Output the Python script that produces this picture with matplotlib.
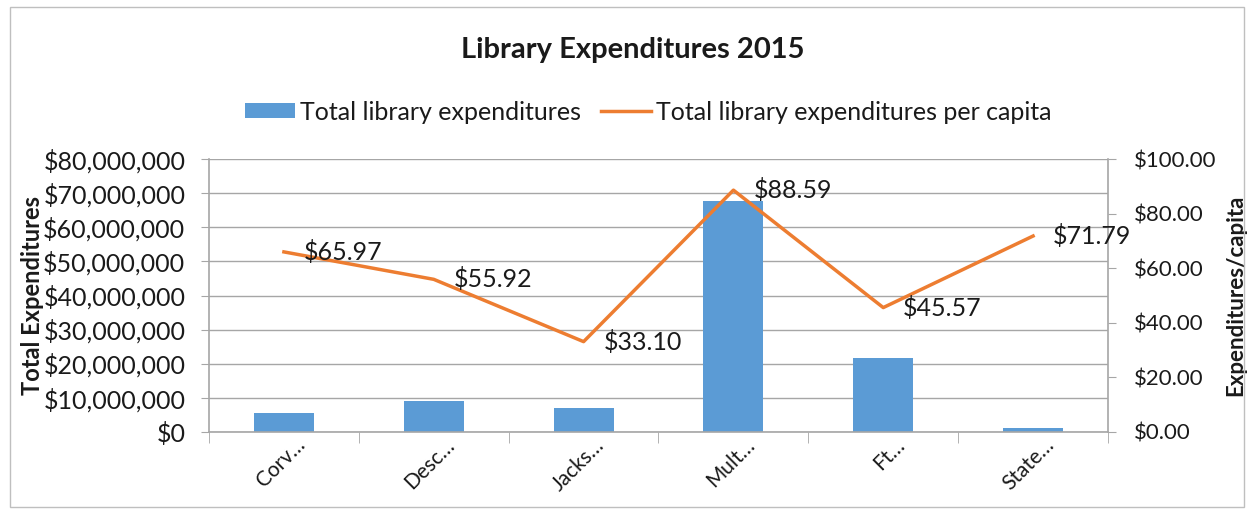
import matplotlib.pyplot as plt
from matplotlib.patches import Rectangle
from matplotlib.ticker import FuncFormatter, FixedLocator
from matplotlib.transforms import ScaledTranslation

plt.rcParams['font.family'] = ['Lato', 'DejaVu Sans']

categories = ['Corv…', 'Desc…', 'Jacks…', 'Mult…', 'Ft…', 'State…']
total_exp = [5.7e6, 9.2e6, 6.95e6, 67.8e6, 21.6e6, 1.3e6]
per_capita = [65.97, 55.92, 33.10, 88.59, 45.57, 71.79]

bar_color = '#5B9BD5'
line_color = '#ED7D31'
grid_color = '#A6A6A6'
text_color = '#1a1a1a'

fig = plt.figure(figsize=(12.54, 5.13), dpi=100)
fig.patches.append(Rectangle((10 / 1254, 6 / 513), 1234 / 1254, 500 / 513,
                             transform=fig.transFigure, fill=False,
                             edgecolor='#BFBFBF', linewidth=1))

ax = fig.add_axes([209 / 1254, 1 - 432 / 513, 899 / 1254, 273 / 513])
x = list(range(len(categories)))
bars = ax.bar(x, total_exp, width=0.4, color=bar_color, zorder=2,
              label='Total library expenditures')
ax.set_xlim(-0.5, len(categories) - 0.5)
ax.set_ylim(0, 80e6)
ax.yaxis.set_major_locator(FixedLocator([i * 10e6 for i in range(9)]))
ax.yaxis.set_major_formatter(FuncFormatter(lambda v, p: '${:,.0f}'.format(v)))
ax.grid(axis='y', color=grid_color, linewidth=1, zorder=0)
ax.set_axisbelow(True)

ax.set_xticks(x)
ax.set_xticks([i - 0.5 for i in range(len(categories) + 1)], minor=True)
ax.tick_params(axis='x', which='major', length=0, pad=7)
ax.tick_params(axis='x', which='minor', length=8, color=grid_color, direction='out')
ax.tick_params(axis='y', labelsize=18, labelcolor=text_color, length=6,
               color=grid_color, direction='out', pad=11)
ax.set_xticklabels(categories, rotation=45, ha='right', va='center',
                   rotation_mode='anchor', fontsize=15, color=text_color)
# shift rotated labels so their end sits right of the bar centre (Excel style)
shift = ScaledTranslation(18 / 100, 0, fig.dpi_scale_trans)
for lab in ax.get_xticklabels():
    lab.set_transform(lab.get_transform() + shift)

for s in ['top', 'right']:
    ax.spines[s].set_visible(False)
for s in ['left', 'bottom']:
    ax.spines[s].set_color(grid_color)
    ax.spines[s].set_linewidth(1.2)

ax.set_ylabel('Total Expenditures', fontsize=17, fontweight='bold',
              color=text_color)
ax.yaxis.set_label_coords(-0.183, 0.5)

ax2 = ax.twinx()
line, = ax2.plot(x, per_capita, color=line_color, linewidth=2.5, zorder=3,
                 label='Total library expenditures per capita')
ax2.set_ylim(0, 100)
ax2.yaxis.set_major_locator(FixedLocator([0, 20, 40, 60, 80, 100]))
ax2.yaxis.set_major_formatter(FuncFormatter(lambda v, p: '${:,.2f}'.format(v)))
ax2.tick_params(axis='y', labelsize=16, labelcolor=text_color, length=6,
                color=grid_color, direction='out', pad=13)
for s in ['top', 'left', 'bottom']:
    ax2.spines[s].set_visible(False)
ax2.spines['right'].set_color(grid_color)
ax2.spines['right'].set_linewidth(1.2)
ax2.set_ylabel('Expenditures/capita', fontsize=16, fontweight='bold',
               color=text_color)
ax2.yaxis.set_label_coords((1225 - 209) / 899, 0.5)

for xi, v in zip(x, per_capita):
    ax2.annotate('${:.2f}'.format(v), (xi, v), xytext=(20, 0),
                 textcoords='offset pixels', ha='left', va='center',
                 fontsize=18, color=text_color, zorder=4)

fig.text(633 / 1254, 1 - 50 / 513, 'Library Expenditures 2015', ha='center',
         va='center', fontsize=21, fontweight='bold', color=text_color)
fig.legend(handles=[bars, line], loc='center', bbox_to_anchor=(648 / 1254, 1 - 112 / 513),
           ncol=2, frameon=False, fontsize=18, handlelength=2.0, handleheight=0.56,
           handletextpad=0.2, columnspacing=0.8, labelcolor=text_color)

fig.savefig('out.png', dpi=100)
